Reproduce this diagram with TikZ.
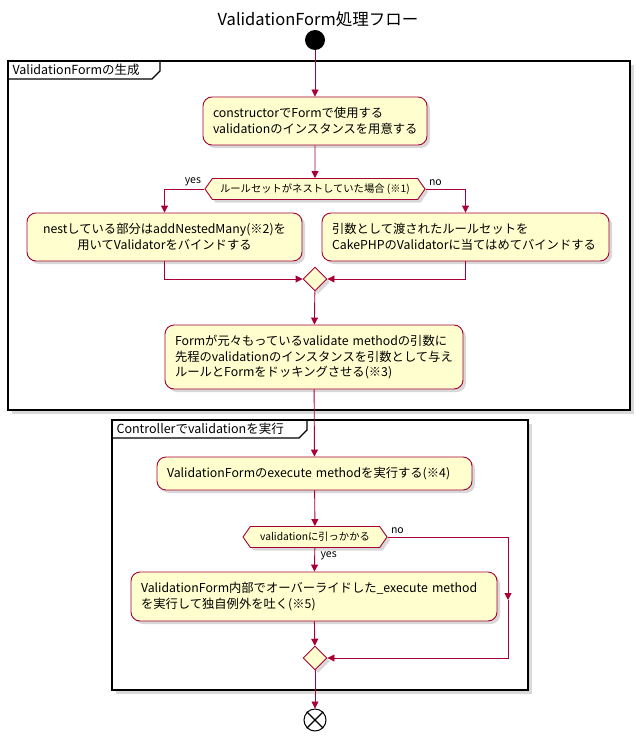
\documentclass[tikz,border=0pt]{standalone}
\usepackage{fontspec}
\setmainfont{Noto Sans CJK JP}
\usetikzlibrary{shapes.geometric,shapes.symbols,arrows.meta,shadows}
\definecolor{bx}{HTML}{FEFECE}
\definecolor{bd}{HTML}{A80036}
\begin{document}
\begin{tikzpicture}[x=1pt,y=-1pt,
 act/.style={draw=bd,fill=bx,rounded corners=9pt,line width=0.9pt,align=left,font=\fontsize{12.3}{15.5}\selectfont,inner xsep=10pt,inner ysep=0pt,drop shadow={shadow xshift=3pt,shadow yshift=-3pt,opacity=0.3}},
 hex/.style={draw=bd,fill=bx,signal,signal to=west and east,signal pointer angle=110,line width=0.9pt,font=\fontsize{10.3}{12}\selectfont,inner sep=2pt,minimum height=21pt,drop shadow={shadow xshift=3pt,shadow yshift=-3pt,opacity=0.3}},
 mrg/.style={draw=bd,fill=bx,diamond,line width=0.9pt,minimum width=24pt,minimum height=24pt,inner sep=0pt,drop shadow={shadow xshift=3pt,shadow yshift=-3pt,opacity=0.3}},
 ln/.style={draw=bd,line width=0.9pt},
 ar/.style={ln,-{Triangle[length=7pt,width=7pt]}},
 frm/.style={draw=black,line width=1.4pt,fill=white,drop shadow={shadow xshift=4pt,shadow yshift=-4pt,opacity=0.3}},
 lbl/.style={font=\fontsize{10.5}{12}\selectfont},
 ftxt/.style={font=\fontsize{12.5}{14}\selectfont,anchor=west}]
\useasboundingbox (0,0) rectangle (636,741);
\node (title) at (318,19) {\fontsize{16.5}{19}\selectfont ValidationForm処理フロー};
% frames
\path[frm] (8,61) rectangle (630,410);
\draw[line width=1.2pt] (8,79) -- (152,79) -- (160,71) -- (160,61);
\node[ftxt] (f1) at (9,70) {ValidationFormの生成};
\path[frm] (112,420) rectangle (528,690);
\draw[line width=1.2pt] (112,438) -- (299,438) -- (307,430) -- (307,420);
\node[ftxt] (f2) at (113,429) {Controllerでvalidationを実行};
% nodes
\node[circle,fill=black,minimum size=20pt,inner sep=0pt] (st) at (315,40) {};
\node[act,text width=204pt,minimum height=48pt] (b1) at (315,121) {constructorでFormで使用する\\validationのインスタンスを用意する};
\node[hex,minimum width=220pt] (h1) at (315,189) {ルールセットがネストしていた場合 (※1)};
\node[act,text width=255pt,minimum height=48pt,align=center] (lb) at (164.5,237) {nestしている部分はaddNestedMany(※2)を\\用いてValidatorをバインドする};
\node[act,text width=267pt,minimum height=48pt] (rb) at (465.5,237) {引数として渡されたルールセットを\\CakePHPのValidatorに当てはめてバインドする};
\node[mrg] (m1) at (315,279) {};
\node[act,text width=278pt,minimum height=64pt] (b3) at (314,357) {Formが元々もっているvalidate methodの引数に\\先程のvalidationのインスタンスを引数として与え\\ルールとFormをドッキングさせる(※3)};
\node[act,text width=295pt,minimum height=33pt] (b4) at (314.5,473.5) {ValidationFormのexecute methodを実行する(※4)};
\node[hex,minimum width=144pt] (h2) at (315,537) {validationに引っかかる};
\node[act,text width=346pt,minimum height=49pt] (b5) at (314,596.5) {ValidationForm内部でオーバーライドした\_execute method\\を実行して独自例外を吐く(※5)};
\node[mrg] (m2) at (315,658) {};
\node[circle,draw=black,fill=white,line width=1pt,minimum size=22pt,inner sep=0pt] (en) at (315,720) {};
\draw[line width=1.2pt] (en.north west) -- (en.south east) (en.north east) -- (en.south west);
% edges
\draw[ar] (st) -- (b1);
\draw[ar] (b1) -- (h1);
\draw[ar] (h1.west) -| (lb.north);
\draw[ar] (h1.east) -| (rb.north);
\node[lbl,anchor=south east] (yes1) at (h1.west) {yes};
\node[lbl,anchor=south west] (no1) at (h1.east) {no};
\draw[ar] (lb.south) |- (m1.west);
\draw[ar] (rb.south) |- (m1.east);
\draw[ar] (m1) -- (b3);
\draw[ar] (b3) -- (b4);
\draw[ar] (b4) -- (h2);
\draw[ar] (h2) -- (b5);
\node[lbl,anchor=north west] (yes2) at ([xshift=2pt]h2.south) {yes};
\node[lbl,anchor=south west] (no2) at (h2.east) {no};
\coordinate (r1) at (508,537);
\coordinate (r2) at (508,600);
\draw[ln] (h2.east) -- (r1);
\draw[ar] (r1) -- (r2);
\draw[ar] (r2) |- (m2.east);
\draw[ar] (b5) -- (m2);
\draw[ar] (m2) -- (en);
\end{tikzpicture}
\end{document}
